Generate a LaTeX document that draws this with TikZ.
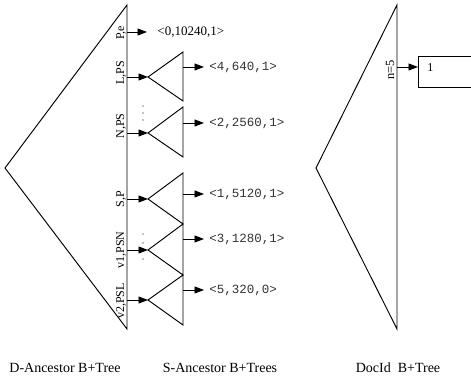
\documentclass[tikz,border=0pt]{standalone}
\usepackage{fontspec}
\setmainfont{Liberation Serif}
\setmonofont{Liberation Mono}
\usetikzlibrary{arrows.meta}
\begin{document}
\begin{tikzpicture}[x=1pt,y=-1pt,line width=0.95pt,line join=miter,
  arr/.style={-{Triangle[length=9.5pt,width=7pt]}},
  vlab/.style={rotate=90,anchor=base,font=\fontsize{12}{12}\selectfont,inner sep=0pt},
  mlab/.style={anchor=west,font=\ttfamily\fontsize{12.5}{12.5}\selectfont,inner ysep=0pt,inner xsep=0pt,text=black!80},
  captxt/.style={font=\fontsize{14}{14}\selectfont,inner sep=0pt},
  dotc/.style={fill=black,circle,inner sep=0pt,minimum size=1.3pt}]
\useasboundingbox (0,0) rectangle (471,379);
\clip (0,0) rectangle (471,379);
% D-Ancestor tree
\coordinate (dtop) at (127,5);
\coordinate (dleft) at (5,168);
\coordinate (dbot) at (127,329);
\draw (dtop) -- (dleft) -- (dbot) -- cycle;
% labels along the D tree
\node[vlab] (lpe) at (124,33) {P,e};
\node[vlab] (llps) at (124,73) {L,PS};
\node[vlab] (lnps) at (124,126) {N,PS};
\node[vlab] (lsp) at (124,199) {S,P};
\node[vlab] (lv1) at (124,250) {v1,PSN};
\node[vlab] (lv2) at (124,301) {v2,PSL};
% P,e pointer
\coordinate (spe) at (127,32);
\node[anchor=west,inner sep=0pt,font=\fontsize{13}{13}\selectfont] (ope) at (157,32) {<0,10240,1>};
\draw[arr] (spe) -- ([xshift=-10pt]ope.west);
% S-Ancestor small trees
\foreach \n/\yt/\ya/\yb/\yo in {1/52/77/101/67, 2/107/133/157/123, 3/173/199/224/194, 4/224/250/275/239, 5/275/300/325/290}{
  \coordinate (t\n top) at (183,\yt);
  \coordinate (t\n apex) at (148,\ya);
  \coordinate (t\n bot) at (183,\yb);
  \coordinate (s\n) at (127,\ya);
  \coordinate (t\n out) at (183,\yo);
  \draw (t\n top) -- (t\n apex) -- (t\n bot) -- cycle;
  \draw[arr] (s\n) -- (t\n apex);
}
\node[mlab] (o1) at (209,67) {<4,640,1>};
\node[mlab] (o2) at (209,123) {<2,2560,1>};
\node[mlab] (o3) at (209,194) {<1,5120,1>};
\node[mlab] (o4) at (209,239) {<3,1280,1>};
\node[mlab] (o5) at (209,290) {<5,320,0>};
\foreach \n in {1,...,5}{
  \draw[arr] (t\n out) -- ([xshift=-5pt]o\n.west);
}
% dots
\foreach \y in {106,113,120,234,243,259}{
  \node[dotc] at (143,\y) {};
}
% DocId tree
\coordinate (rtop) at (397,5);
\coordinate (rleft) at (316,168);
\coordinate (rbot) at (397,329);
\draw (rtop) -- (rleft) -- (rbot) -- cycle;
\node[vlab,font=\fontsize{12.5}{12.5}\selectfont] (ln5) at (394,70) {n=5};
\node[draw,anchor=north west,minimum width=80pt,minimum height=31pt,inner sep=0pt] (box) at (418,56) {};
\node[anchor=west,inner sep=0pt,font=\fontsize{12}{12}\selectfont] (one) at (427,68) {1};
\coordinate (sn5) at (397,67);
\draw[arr] (sn5) -- (box.west |- sn5);
% captions
\node[captxt] (c1) at (65,368) {D-Ancestor B+Tree};
\node[captxt] (c2) at (220,368) {S-Ancestor B+Trees};
\node[captxt] (c3) at (398,368) {DocId~~B+Tree};
\end{tikzpicture}
\end{document}
